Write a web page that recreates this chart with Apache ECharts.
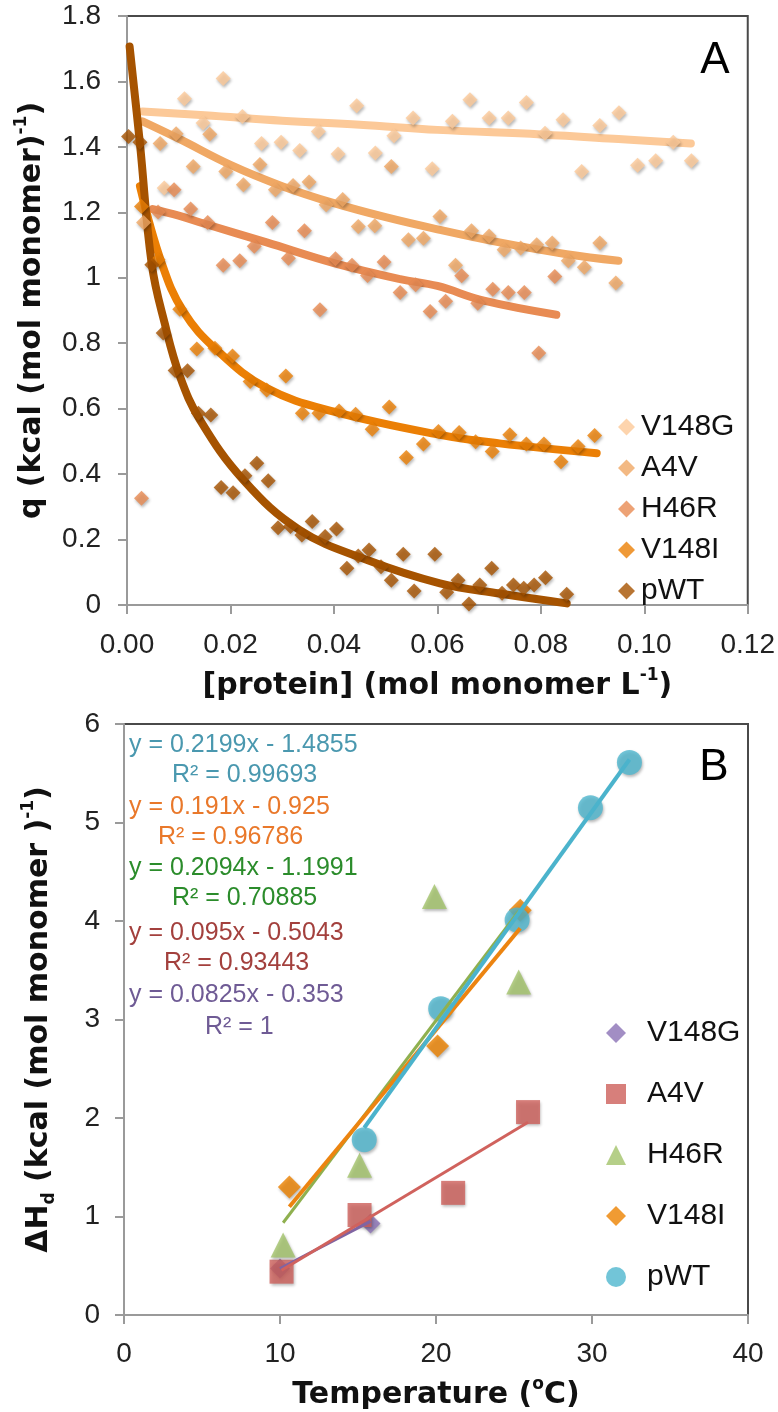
<!DOCTYPE html>
<html>
<head>
<meta charset="utf-8">
<script src="https://cdn.jsdelivr.net/npm/echarts@6/dist/echarts.min.js"></script>
<style>
  html, body { margin: 0; padding: 0; background: #fff; }
  #chart { width: 778px; height: 1412px; }
</style>
</head>
<body>
<div id="chart"></div>
<script>
// ---------- data ----------
const variants = ['V148G', 'A4V', 'H46R', 'V148I', 'pWT'];

// Panel A: heat per injection vs [protein]
const qV148G = [[0.0072,1.274],[0.0111,1.547],[0.0147,1.473],[0.0186,1.609],[0.0223,1.493],[0.026,1.41],[0.0298,1.414],[0.0334,1.389],[0.037,1.447],[0.0408,1.378],[0.0444,1.526],[0.048,1.381],[0.0516,1.434],[0.0553,1.488],[0.059,1.333],[0.0629,1.478],[0.0663,1.544],[0.070,1.488],[0.0737,1.488],[0.0772,1.536],[0.0808,1.442],[0.0843,1.483],[0.0879,1.325],[0.0914,1.465],[0.0951,1.504],[0.0987,1.344],[0.1022,1.358],[0.1056,1.414],[0.1091,1.358]];
const qA4V = [[0.0032,1.169],[0.0064,1.41],[0.0095,1.44],[0.0128,1.34],[0.016,1.439],[0.0191,1.325],[0.0225,1.284],[0.0257,1.346],[0.0287,1.269],[0.0321,1.282],[0.0352,1.293],[0.0385,1.223],[0.0417,1.239],[0.0447,1.157],[0.0479,1.159],[0.0511,1.34],[0.0544,1.116],[0.0573,1.121],[0.0605,1.187],[0.0635,1.038],[0.0666,1.144],[0.070,1.128],[0.0729,1.086],[0.0761,1.091],[0.0792,1.101],[0.0822,1.106],[0.0853,1.052],[0.0884,1.032],[0.0914,1.106],[0.0945,0.984]];
const qH46R = [[0.0028,0.326],[0.006,1.201],[0.0091,1.269],[0.0123,1.21],[0.0156,1.169],[0.0186,1.038],[0.0218,1.052],[0.0246,1.096],[0.0281,1.169],[0.0312,1.06],[0.0343,1.144],[0.0373,0.902],[0.0403,1.058],[0.0435,1.038],[0.0465,1.007],[0.0497,1.048],[0.0528,0.955],[0.0558,0.979],[0.0586,0.897],[0.0616,0.928],[0.0647,1.006],[0.0678,0.922],[0.0707,0.965],[0.0737,0.955],[0.0768,0.955],[0.0796,0.770],[0.0827,1.004]];
const qV148I = [[0.0028,1.218],[0.006,1.055],[0.0102,0.904],[0.0135,0.782],[0.017,0.785],[0.0204,0.761],[0.0238,0.683],[0.027,0.657],[0.0307,0.700],[0.0339,0.586],[0.0371,0.586],[0.041,0.593],[0.0442,0.583],[0.0474,0.537],[0.0507,0.605],[0.054,0.451],[0.0573,0.492],[0.0602,0.530],[0.0642,0.527],[0.0674,0.499],[0.0706,0.469],[0.074,0.520],[0.0772,0.492],[0.0806,0.492],[0.0839,0.438],[0.0872,0.484],[0.0904,0.518]];
const qpWT = [[0.0003,1.432],[0.0025,1.414],[0.0048,1.040],[0.007,0.831],[0.0093,0.717],[0.0117,0.716],[0.0138,0.586],[0.0162,0.581],[0.0182,0.359],[0.0205,0.343],[0.0228,0.395],[0.0251,0.433],[0.0273,0.380],[0.0292,0.236],[0.0316,0.240],[0.0338,0.214],[0.0358,0.255],[0.0383,0.209],[0.0405,0.232],[0.0425,0.112],[0.0447,0.150],[0.0468,0.168],[0.0491,0.117],[0.0511,0.076],[0.0534,0.155],[0.0555,0.043],[0.0595,0.155],[0.0618,0.039],[0.064,0.076],[0.0661,0.003],[0.0682,0.061],[0.0705,0.112],[0.0725,0.036],[0.0747,0.061],[0.0767,0.051],[0.0787,0.061],[0.0809,0.083],[0.085,0.033]];

// Panel A: fitted binding curves
const fitV148G = [[0.003,1.508],[0.015,1.497],[0.03,1.48],[0.045,1.468],[0.06,1.452],[0.08,1.438],[0.095,1.424],[0.109,1.41]];
const fitA4V = [[0.003,1.478],[0.01,1.425],[0.02,1.345],[0.03,1.28],[0.04,1.228],[0.05,1.185],[0.06,1.148],[0.072,1.108],[0.085,1.072],[0.095,1.052]];
const fitH46R = [[0.005,1.21],[0.01,1.19],[0.015,1.165],[0.027,1.108],[0.04,1.045],[0.0528,0.996],[0.06,0.975],[0.069,0.93],[0.083,0.887]];
const fitV148I = [[0.0025,1.28],[0.0067,1.045],[0.0109,0.897],[0.0173,0.78],[0.027,0.663],[0.04,0.591],[0.0605,0.52],[0.072,0.494],[0.0908,0.464]];
const fitpWT = [[0.0005,1.707],[0.0025,1.41],[0.0048,1.04],[0.0073,0.86],[0.0102,0.70],[0.0141,0.566],[0.0225,0.382],[0.0334,0.229],[0.0463,0.138],[0.0605,0.066],[0.072,0.035],[0.085,0.005]];

// Panel B: dissociation enthalpy vs temperature
const hV148G = [[10,0.472],[15.8,0.93]];
const hA4V = [[10.1,0.44],[15.1,1.015],[21.1,1.24],[25.9,2.06]];
const hH46R = [[10.2,0.71],[15.1,1.52],[19.9,4.25],[25.3,3.38]];
const hV148I = [[10.6,1.30],[20.1,2.73],[25.4,4.11]];
const hpWT = [[15.4,1.78],[20.3,3.11],[25.2,4.01],[29.9,5.15],[32.4,5.61]];

// Linear regressions (same order as variants)
const slopes = [0.0825, 0.095, 0.2094, 0.191, 0.2199];
const intercepts = [-0.353, -0.5043, -1.1991, -0.925, -1.4855];
const rSquared = ['1', '0.93443', '0.70885', '0.96786', '0.99693'];

// Tick labels
const xLabelsA = ['0.00','0.02','0.04','0.06','0.08','0.10','0.12'];
const yLabelsA = ['0','0.2','0.4','0.6','0.8','1','1.2','1.4','1.6','1.8'];
const xLabelsB = ['0','10','20','30','40'];
const yLabelsB = ['0','1','2','3','4','5','6'];

// ---------- styling ----------
const colorsA = ['#FCC998', '#F0A864', '#E88B53', '#EB7F05', '#A65300'];
const colorsB = ['#8B72B5', '#CD5F5A', '#A3C36A', '#EC8200', '#4FB6CE'];
const lineColorsB = ['#8064A2', '#D0625D', '#8FB04F', '#EC8410', '#4BB3CC'];
const eqColors = ['#6F5B95', '#A3403D', '#2B8C2B', '#E9782A', '#4A98AF'];
const symbolsB = ['diamond', 'rect', 'triangle', 'diamond', 'circle'];
const sizesB = [20, 24, 25, 23, 25];

const qData = [qV148G, qA4V, qH46R, qV148I, qpWT];
const fitData = [fitV148G, fitA4V, fitH46R, fitV148I, fitpWT];
const hData = [hV148G, hA4V, hH46R, hV148I, hpWT];

const tickFont = { fontFamily: 'Liberation Sans', fontSize: 28, color: '#222' };
const titleRich = {
  b: { fontFamily: 'DejaVu Sans', fontWeight: 'bold', fontSize: 30, lineHeight: 38, color: '#111' },
  sup: { fontFamily: 'DejaVu Sans', fontWeight: 'bold', fontSize: 17, lineHeight: 20, verticalAlign: 'top', color: '#111' },
  sub: { fontFamily: 'DejaVu Sans', fontWeight: 'bold', fontSize: 17, lineHeight: 20, verticalAlign: 'bottom', color: '#111' }
};
const axisLine = { lineStyle: { color: '#9a9a9a', width: 2 } };
const axisTick = { inside: false, length: 9, lineStyle: { color: '#9a9a9a', width: 2 } };
const shadow = { shadowBlur: 3, shadowColor: 'rgba(0,0,0,0.35)', shadowOffsetX: 1, shadowOffsetY: 2 };

const series = [];
// Panel A fitted curves (beneath markers)
variants.forEach((v, i) => {
  series.push({
    name: v + ' fit', type: 'line', xAxisIndex: 0, yAxisIndex: 0,
    data: fitData[i], smooth: 0.4, showSymbol: false, silent: true, z: 2,
    lineStyle: { color: colorsA[i], width: 8, cap: 'round', join: 'round' }
  });
});
// Panel A measured points
variants.forEach((v, i) => {
  series.push({
    name: v, type: 'scatter', xAxisIndex: 0, yAxisIndex: 0,
    data: qData[i], symbol: 'diamond', symbolSize: 15, z: 3,
    itemStyle: Object.assign({ color: colorsA[i] }, shadow)
  });
});
// Panel B measured points
variants.forEach((v, i) => {
  series.push({
    name: v + ' ΔHd', type: 'scatter', xAxisIndex: 1, yAxisIndex: 1,
    data: hData[i], symbol: symbolsB[i], symbolSize: sizesB[i], z: 3,
    itemStyle: Object.assign({ color: colorsB[i] }, shadow)
  });
});
// Panel B regression lines, spanning each variant's temperature range
variants.forEach((v, i) => {
  const xs = hData[i].map(p => p[0]);
  const x0 = Math.min(...xs), x1 = Math.max(...xs);
  series.push({
    name: v + ' trend', type: 'line', xAxisIndex: 1, yAxisIndex: 1,
    data: [[x0, slopes[i] * x0 + intercepts[i]], [x1, slopes[i] * x1 + intercepts[i]]],
    showSymbol: false, silent: true, z: 4 + i,
    lineStyle: { color: lineColorsB[i], width: i >= 3 ? 4 : 3 }
  });
});

// Regression equation labels, top to bottom: pWT, V148I, H46R, A4V, V148G
const eqOrder = [4, 3, 2, 1, 0];
const eqPos = [[129, 745, 172, 775], [129, 807, 158, 837], [129, 868, 172, 898], [129, 933, 164, 963], [129, 995, 205, 1027]];
const graphics = [];
eqOrder.forEach((vi, k) => {
  const p = eqPos[k];
  const eq = 'y = ' + slopes[vi] + 'x - ' + Math.abs(intercepts[vi]);
  graphics.push({ type: 'text', x: p[0], y: p[1], z: 10,
    style: { text: eq, fill: eqColors[vi], font: '25px "Liberation Sans"', align: 'left', verticalAlign: 'middle' } });
  graphics.push({ type: 'text', x: p[2], y: p[3], z: 10,
    style: { text: 'R² = ' + rSquared[vi], fill: eqColors[vi], font: '25px "Liberation Sans"', align: 'left', verticalAlign: 'middle' } });
});
graphics.push({ type: 'text', x: 715, y: 61, z: 10,
  style: { text: 'A', fill: '#000', font: '44px "Liberation Sans"', align: 'center', verticalAlign: 'middle' } });
graphics.push({ type: 'text', x: 714, y: 768, z: 10,
  style: { text: 'B', fill: '#000', font: '44px "Liberation Sans"', align: 'center', verticalAlign: 'middle' } });

const option = {
  animation: false,
  backgroundColor: '#fff',
  grid: [
    { left: 127, top: 16, width: 621, height: 589, show: true, borderColor: '#4a4a4a', borderWidth: 2, backgroundColor: 'transparent' },
    { left: 124, top: 724, width: 624, height: 591, show: true, borderColor: '#4a4a4a', borderWidth: 2, backgroundColor: 'transparent' }
  ],
  xAxis: [
    { type: 'value', gridIndex: 0, min: 0, max: 0.12, interval: 0.02,
      axisLine, axisTick, splitLine: { show: false },
      axisLabel: Object.assign({ margin: 26, formatter: v => xLabelsA[Math.round(v / 0.02)] }, tickFont),
      name: '{b|[protein] (mol monomer L}{sup|-1}{b|)}', nameLocation: 'middle', nameGap: 62,
      nameTextStyle: { rich: titleRich } },
    { type: 'value', gridIndex: 1, min: 0, max: 40, interval: 10,
      axisLine, axisTick, splitLine: { show: false },
      axisLabel: Object.assign({ margin: 25, formatter: v => xLabelsB[Math.round(v / 10)] }, tickFont),
      name: '{b|Temperature (}{sup|o}{b|C)}', nameLocation: 'middle', nameGap: 61,
      nameTextStyle: { rich: titleRich } }
  ],
  yAxis: [
    { type: 'value', gridIndex: 0, min: 0, max: 1.8, interval: 0.2,
      axisLine, axisTick, splitLine: { show: false },
      axisLabel: Object.assign({ margin: 26, formatter: v => yLabelsA[Math.round(v / 0.2)] }, tickFont),
      name: '{b|q (kcal (mol monomer)}{sup|-1}{b|)}', nameLocation: 'middle', nameGap: 76,
      nameTextStyle: { rich: titleRich } },
    { type: 'value', gridIndex: 1, min: 0, max: 6, interval: 1,
      axisLine, axisTick, splitLine: { show: false },
      axisLabel: Object.assign({ margin: 24, formatter: v => yLabelsB[Math.round(v)] }, tickFont),
      name: '{b|ΔH}{sub|d}{b| (kcal (mol monomer )}{sup|-1}{b|)}', nameLocation: 'middle', nameGap: 66,
      nameTextStyle: { rich: titleRich } }
  ],
  legend: [
    { data: variants, orient: 'vertical', left: 613, top: 407, itemWidth: 17, itemHeight: 17, itemGap: 11,
      selectedMode: false,
      textStyle: { fontFamily: 'Liberation Sans', fontSize: 30, lineHeight: 30, color: '#111', padding: [0, 0, 0, 1] } },
    { data: variants.map(v => v + ' ΔHd'), orient: 'vertical', left: 601, top: 1013, itemWidth: 20, itemHeight: 20, itemGap: 31,
      selectedMode: false, formatter: name => name.split(' ')[0],
      textStyle: { fontFamily: 'Liberation Sans', fontSize: 30, lineHeight: 30, color: '#111', padding: [0, 0, 0, 16] } }
  ],
  graphic: graphics,
  series
};

const chart = echarts.init(document.getElementById('chart'), null, { renderer: 'canvas' });
chart.setOption(option);
</script>
</body>
</html>
